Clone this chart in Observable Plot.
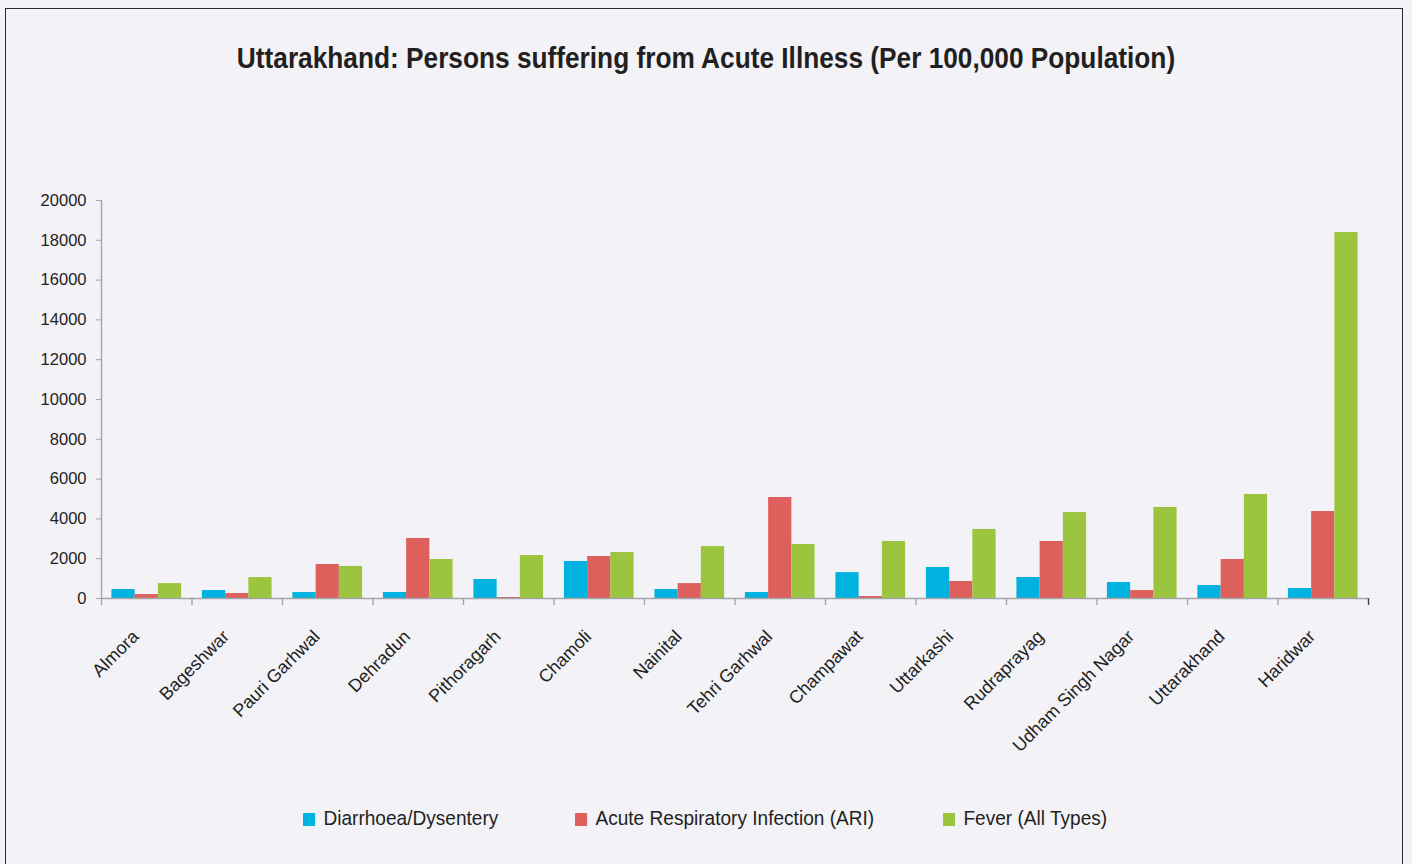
<!DOCTYPE html>
<html>
<head>
<meta charset="utf-8">
<script src="https://cdn.jsdelivr.net/npm/d3@7"></script>
<script src="https://cdn.jsdelivr.net/npm/@observablehq/plot@0.6"></script>
<style>
  html, body { margin: 0; padding: 0; background: #f3f2f7; }
  body { width: 1412px; height: 864px; position: relative; overflow: hidden;
         font-family: "Liberation Sans Narrow", "Arial Narrow", "Liberation Sans", sans-serif; color: #231f20; }
  #frame { position: absolute; left: 5px; top: 8px; width: 1398px; height: 870px;
           border: 1.5px solid #2b2b2b; box-sizing: border-box; }
  #title { position: absolute; left: 0; width: 1412px; top: 42px; text-align: center;
           font-weight: bold; font-size: 29px; transform: scaleX(0.905); transform-origin: 706px 0; white-space: nowrap; }
  #chart { position: absolute; left: 0; top: 0; }
  .leg { position: absolute; top: 806px; font-size: 20.5px; white-space: nowrap; transform: scaleX(0.93); transform-origin: 0 0; }
  .leg span.sw { display: inline-block; width: 13px; height: 13px; margin-right: 9px; vertical-align: -1px; }
</style>
</head>
<body>
<div id="frame"></div>
<div id="title">Uttarakhand: Persons suffering from Acute Illness (Per 100,000 Population)</div>
<div id="chart"></div>
<div id="legend"></div>
<script>
const districts = ["Almora","Bageshwar","Pauri Garhwal","Dehradun","Pithoragarh","Chamoli","Nainital",
  "Tehri Garhwal","Champawat","Uttarkashi","Rudraprayag","Udham Singh Nagar","Uttarakhand","Haridwar"];
const seriesNames = ["Diarrhoea/Dysentery","Acute Respiratory Infection (ARI)","Fever (All Types)"];
const diarrhoea = [450, 400, 300, 300, 955, 1860, 450, 300, 1300, 1560, 1055, 805, 650, 500];
const ari       = [200, 250, 1710, 3015, 50, 2110, 750, 5075, 100, 855, 2865, 400, 1960, 4370];
const fever     = [750, 1050, 1610, 1960, 2160, 2310, 2610, 2715, 2865, 3470, 4320, 4575, 5225, 18390];
const yTicks    = [0, 2000, 4000, 6000, 8000, 10000, 12000, 14000, 16000, 18000, 20000];
const colors    = ["#00b2e0", "#de605c", "#9bc53f"];

const values = [diarrhoea, ari, fever];
const rows = seriesNames.flatMap((s, i) => districts.map((d, j) => ({district: d, series: s, value: values[i][j]})));

const W = 1412, H = 780, ML = 101, MR = 44, MT = 200, MB = 182;
const step = (W - ML - MR) / districts.length;
const outer = 0.115 * step;
const bw = (step - 2 * outer) / 3;
const axisGray = "#a3a3a8";
const font = '"Liberation Sans Narrow", "Arial Narrow", "Liberation Sans", sans-serif';

const bars = seriesNames.map((s, i) => Plot.barY(rows.filter(r => r.series === s), {
  x: "district", y: "value", fill: colors[i],
  insetLeft: outer + i * bw, insetRight: step - outer - (i + 1) * bw
}));

const chart = Plot.plot({
  width: W, height: H,
  marginLeft: ML, marginRight: MR, marginTop: MT, marginBottom: MB,
  style: {background: "transparent", fontFamily: font, color: "#231f20", overflow: "visible"},
  x: {domain: districts, padding: 0, round: false, axis: null},
  y: {domain: [0, 20000], axis: null},
  marks: [
    ...bars,
    Plot.ruleY([0], {stroke: axisGray, strokeWidth: 1.6}),
    Plot.ruleX([districts[0]], {y1: 0, y2: 20000, dx: -step / 2, stroke: axisGray, strokeWidth: 1.4}),
    Plot.axisY(yTicks, {tickSize: 5, tickPadding: 10, stroke: axisGray, fill: "#231f20", fontSize: 16.5, label: null,
      tickFormat: d => String(d)}),
    Plot.axisX({tickSize: 7, text: null, dx: -step / 2, stroke: axisGray, strokeWidth: 1.4, label: null}),
    Plot.axisX([districts[districts.length - 1]], {tickSize: 7, text: null, dx: step / 2, stroke: "#444", strokeWidth: 1.4, label: null}),
    Plot.axisX({tickSize: 0, tickPadding: 35, dx: -11, tickRotate: -45, fontSize: 18, fill: "#231f20", label: null})
  ]
});
document.getElementById("chart").append(chart);

const legX = [303, 575, 943];
const legend = d3.select("#legend");
seriesNames.forEach((s, i) => {
  const item = legend.append("div").attr("class", "leg").style("left", legX[i] + "px");
  item.append("span").attr("class", "sw").style("background", colors[i]);
  item.append("span").text(s);
});
</script>
</body>
</html>
